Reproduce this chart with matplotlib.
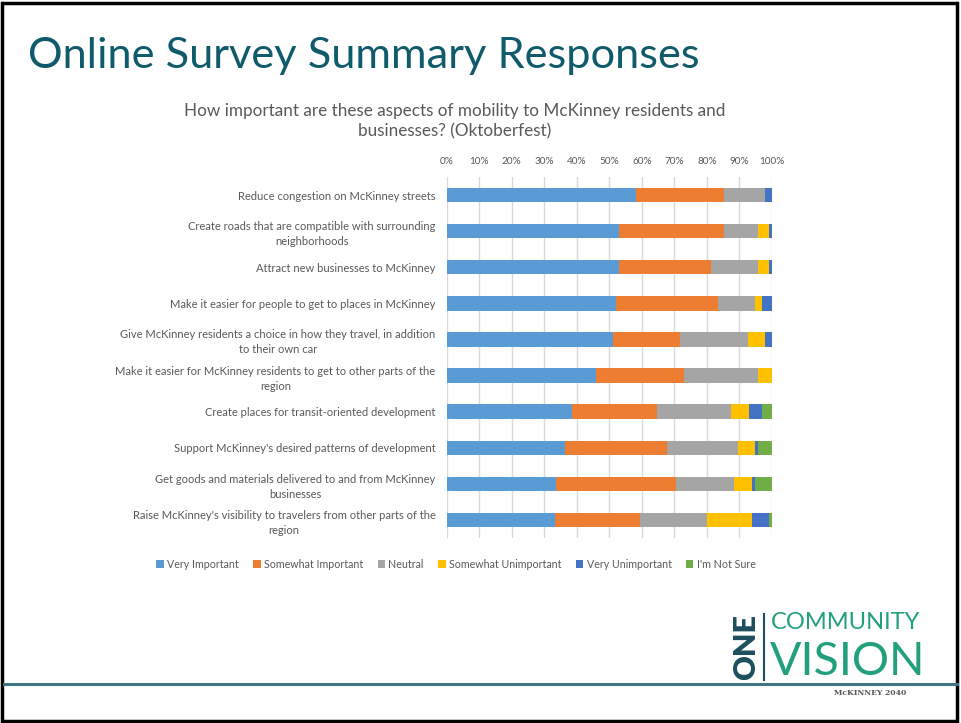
import matplotlib.pyplot as plt
from matplotlib.patches import Rectangle
from matplotlib.lines import Line2D

plt.rcParams["font.family"] = ["Lato", "DejaVu Sans"]

# survey statements, top to bottom
questions = [
    "Reduce congestion on McKinney streets",
    "Create roads that are compatible with surrounding\nneighborhoods",
    "Attract new businesses to McKinney",
    "Make it easier for people to get to places in McKinney",
    "Give McKinney residents a choice in how they travel, in addition\nto their own car",
    "Make it easier for McKinney residents to get to other parts of the\nregion",
    "Create places for transit-oriented development",
    "Support McKinney's desired patterns of development",
    "Get goods and materials delivered to and from McKinney\nbusinesses",
    "Raise McKinney's visibility to travelers from other parts of the\nregion",
]

responses = ["Very Important", "Somewhat Important", "Neutral",
             "Somewhat Unimportant", "Very Unimportant", "I'm Not Sure"]
colors = ["#5B9BD5", "#ED7D31", "#A5A5A5", "#FFC000", "#4472C4", "#70AD47"]

# share of answers (%) per statement
very_important = [58.3, 53.1, 53.1, 52.0, 51.1, 45.8, 38.5, 36.5, 33.6, 33.3]
somewhat_important = [27.0, 32.2, 28.2, 31.4, 20.7, 27.2, 26.1, 31.2, 36.9, 26.0]
neutral = [12.7, 10.5, 14.5, 11.4, 20.8, 22.8, 22.8, 21.8, 17.8, 20.8]
somewhat_unimportant = [0.0, 3.3, 3.3, 2.1, 5.4, 4.2, 5.4, 5.3, 5.4, 13.6]
very_unimportant = [2.0, 0.9, 0.9, 3.1, 2.0, 0.0, 4.0, 0.8, 1.0, 5.3]
not_sure = [0.0, 0.0, 0.0, 0.0, 0.0, 0.0, 3.2, 4.3, 5.2, 0.9]

series = [very_important, somewhat_important, neutral,
          somewhat_unimportant, very_unimportant, not_sure]

W, H = 961, 723
fig = plt.figure(figsize=(W / 100, H / 100), dpi=100)

ax = fig.add_axes([446.7 / W, 1 - 538 / H, 325.3 / W, 361 / H])
ypos = list(range(len(questions)))
left = [0.0] * len(questions)
for name, vals, c in zip(responses, series, colors):
    ax.barh(ypos, vals, left=left, height=0.4, color=c, label=name, zorder=3)
    left = [a + b for a, b in zip(left, vals)]

ax.set_xlim(0, 100)
ax.set_ylim(len(questions) - 0.5, -0.5)
ax.set_xticks(range(0, 101, 10))
ax.set_xticklabels([f"{t}%" for t in range(0, 101, 10)])
ax.xaxis.tick_top()
ax.set_yticks(ypos)
ax.set_yticklabels(questions, ha="right", multialignment="center", linespacing=1.45)
ax.tick_params(axis="x", length=0, pad=8, labelsize=7.2, labelcolor="#595959")
ax.tick_params(axis="y", length=0, pad=8, labelsize=8, labelcolor="#595959")
ax.grid(axis="x", color="#d9d9d9", linewidth=1, zorder=0)
for s in ax.spines.values():
    s.set_visible(False)

fig.legend(loc="center", bbox_to_anchor=(456 / W, 1 - 564 / H), ncol=6,
           frameon=False, fontsize=7.7, labelcolor="#595959",
           handlelength=0.7, handleheight=0.7, handletextpad=0.3,
           columnspacing=1.35)

# slide heading and chart title
fig.text(28 / W, 1 - 68 / H, "Online Survey Summary Responses",
         fontsize=31.2, color="#0f5b6b", va="baseline", ha="left")
fig.text(455 / W, 1 - 121 / H,
         "How important are these aspects of mobility to McKinney residents and\nbusinesses? (Oktoberfest)",
         fontsize=12.3, color="#595959", ha="center", va="center", linespacing=1.35)

# footer rule and logo
fig.add_artist(Line2D([4 / W, 957 / W], [1 - 684 / H] * 2, color="#3f7480", linewidth=2.2))
fig.add_artist(Line2D([764 / W] * 2, [1 - 614 / H, 1 - 680 / H], color="#1d4e5e", linewidth=1.5))
fig.text(746 / W, 1 - 647 / H, "ONE", rotation=90, fontsize=22, fontweight="heavy",
         color="#1d4e5e", ha="center", va="center")
fig.text(771 / W, 1 - 629 / H, "COMMUNITY", fontsize=17, color="#22a07d",
         ha="left", va="baseline")
fig.text(770 / W, 1 - 675 / H, "VISION", fontsize=33.5, fontweight="normal",
         color="#22a07d", ha="left", va="baseline")
fig.text(870 / W, 1 - 693 / H, "McKINNEY 2040", fontsize=5.5, fontweight="bold",
         family="DejaVu Serif", color="#555555", ha="center", va="center")

# slide frame
fig.add_artist(Rectangle((2 / W, 2 / H), 955 / W, 718 / H, transform=fig.transFigure,
                         fill=False, edgecolor="black", linewidth=2.5))

fig.savefig("out.png", dpi=100)
